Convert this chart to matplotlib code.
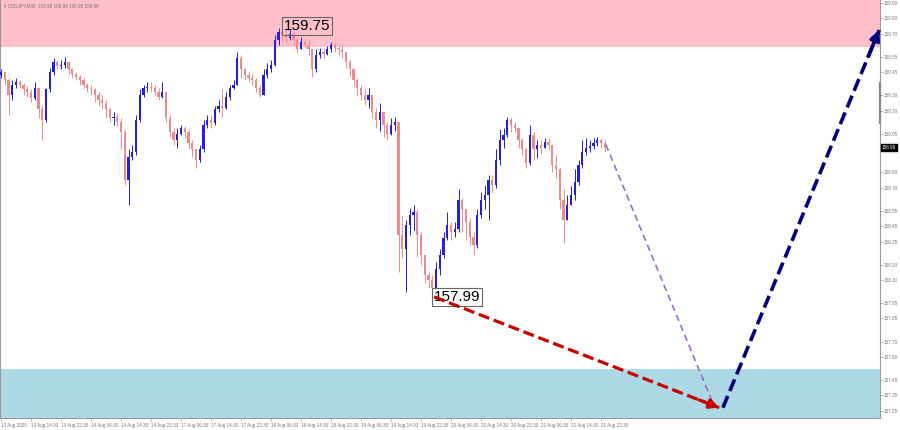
import numpy as np
from matplotlib import pyplot as plt

# USDJPY, velas de 1 hora (precio)
apertura0 = 159.43
cierres = [
    159.45, 159.40, 159.30, 159.37, 159.39, 159.37, 159.34, 159.32, 159.28, 159.35,
    159.21, 159.14, 159.34, 159.45, 159.52, 159.49, 159.50, 159.52, 159.47, 159.44,
    159.42, 159.40, 159.37, 159.35, 159.34, 159.30, 159.27, 159.25, 159.21, 159.15,
    159.16, 159.13, 159.06, 158.75, 158.90, 158.93, 159.14, 159.30, 159.35, 159.355,
    159.35, 159.32, 159.29, 159.32, 159.15, 159.06, 159.01, 159.05, 159.09, 159.06,
    158.99, 158.95, 158.88, 158.95, 159.11, 159.14, 159.12, 159.21, 159.23, 159.22,
    159.29, 159.35, 159.37, 159.54, 159.47, 159.43, 159.41, 159.40, 159.35, 159.30,
    159.43, 159.47, 159.50, 159.66, 159.71, 159.69, 159.67, 159.70, 159.66, 159.60,
    159.65, 159.63, 159.60, 159.47, 159.56, 159.58, 159.57, 159.60, 159.63, 159.61,
    159.60, 159.58, 159.52, 159.47, 159.40, 159.35, 159.30, 159.27, 159.30, 159.19,
    159.14, 159.19, 159.11, 159.05, 159.11, 159.13, 158.39, 158.30, 158.46, 158.52,
    158.54, 158.39, 158.26, 158.13, 158.10, 158.05, 158.17, 158.26, 158.37, 158.46,
    158.41, 158.43, 158.62, 158.56, 158.48, 158.38, 158.33, 158.52, 158.62, 158.65,
    158.75, 158.72, 158.88, 159.01, 159.04, 159.14, 159.11, 159.09, 159.01, 158.95,
    158.86, 159.04, 158.95, 158.98, 158.96, 159.00, 158.98, 158.85, 158.82, 158.62,
    158.49, 158.59, 158.65, 158.74, 158.85, 158.93, 158.96, 158.97, 158.99, 159.01,
    158.99, 158.96]
maximos = [
    159.47, 159.45, 159.41, 159.40, 159.41, 159.40, 159.38, 159.36, 159.34, 159.39,
    159.35, 159.24, 159.35, 159.48, 159.54, 159.53, 159.53, 159.55, 159.52, 159.48,
    159.45, 159.43, 159.41, 159.38, 159.37, 159.35, 159.32, 159.30, 159.27, 159.22,
    159.19, 159.18, 159.15, 159.08, 158.95, 158.98, 159.17, 159.34, 159.37, 159.39,
    159.39, 159.37, 159.35, 159.39, 159.32, 159.17, 159.09, 159.09, 159.11, 159.10,
    159.08, 159.01, 158.96, 158.98, 159.14, 159.17, 159.17, 159.23, 159.27, 159.34,
    159.32, 159.37, 159.40, 159.58, 159.56, 159.48, 159.45, 159.44, 159.41, 159.37,
    159.47, 159.51, 159.53, 159.69, 159.74, 159.75, 159.73, 159.73, 159.71, 159.67,
    159.68, 159.67, 159.66, 159.60, 159.60, 159.61, 159.60, 159.62, 159.65, 159.64,
    159.62, 159.63, 159.58, 159.53, 159.48, 159.41, 159.37, 159.34, 159.35, 159.28,
    159.22, 159.25, 159.19, 159.13, 159.15, 159.16, 159.13, 158.52, 158.49, 158.57,
    158.59, 158.56, 158.41, 158.26, 158.15, 158.13, 158.22, 158.30, 158.41, 158.54,
    158.48, 158.48, 158.69, 158.63, 158.56, 158.50, 158.41, 158.56, 158.67, 158.72,
    158.78, 158.78, 158.95, 159.08, 159.09, 159.16, 159.15, 159.13, 159.08, 159.02,
    158.96, 159.11, 159.06, 159.01, 159.01, 159.02, 159.02, 158.98, 158.91, 158.83,
    158.69, 158.65, 158.71, 158.82, 158.88, 159.01, 159.02, 159.01, 159.02, 159.03,
    159.02, 159.01]
minimos = [
    159.41, 159.37, 159.17, 159.27, 159.35, 159.35, 159.30, 159.29, 159.26, 159.27,
    159.15, 159.01, 159.13, 159.32, 159.43, 159.47, 159.47, 159.48, 159.44, 159.41,
    159.40, 159.37, 159.35, 159.32, 159.30, 159.26, 159.23, 159.21, 159.15, 159.13,
    159.11, 159.10, 158.95, 158.72, 158.59, 158.88, 158.91, 159.13, 159.29, 159.32,
    159.32, 159.30, 159.27, 159.28, 159.13, 159.03, 158.98, 158.96, 159.04, 159.02,
    158.95, 158.90, 158.83, 158.87, 158.93, 159.09, 159.09, 159.11, 159.19, 159.16,
    159.21, 159.27, 159.34, 159.37, 159.41, 159.40, 159.39, 159.37, 159.32, 159.29,
    159.30, 159.41, 159.45, 159.49, 159.63, 159.65, 159.64, 159.66, 159.63, 159.58,
    159.60, 159.61, 159.56, 159.42, 159.45, 159.54, 159.54, 159.56, 159.58, 159.58,
    159.56, 159.54, 159.48, 159.42, 159.36, 159.30, 159.27, 159.24, 159.22, 159.15,
    159.09, 159.07, 159.03, 159.01, 159.04, 159.07, 158.15, 158.24, 158.02, 158.39,
    158.42, 158.25, 158.20, 158.08, 158.05, 157.99, 158.02, 158.13, 158.24, 158.36,
    158.36, 158.38, 158.41, 158.41, 158.36, 158.33, 158.26, 158.31, 158.50, 158.56,
    158.49, 158.67, 158.70, 158.85, 158.96, 159.03, 159.06, 159.06, 158.96, 158.91,
    158.83, 158.85, 158.88, 158.89, 158.92, 158.96, 158.95, 158.80, 158.76, 158.56,
    158.34, 158.49, 158.59, 158.62, 158.72, 158.83, 158.91, 158.93, 158.95, 158.97,
    158.96, 158.93]

etiquetas_fecha = ["13 Aug 2020", "13 Aug 14:30", "13 Aug 22:30", "14 Aug 06:30",
                   "14 Aug 14:30", "14 Aug 22:30", "17 Aug 06:30", "17 Aug 14:30",
                   "17 Aug 22:30", "18 Aug 06:30", "18 Aug 14:30", "18 Aug 22:30",
                   "19 Aug 06:30", "19 Aug 14:30", "19 Aug 22:30", "20 Aug 06:30",
                   "20 Aug 14:30", "20 Aug 22:30", "21 Aug 06:30", "21 Aug 14:30",
                   "21 Aug 22:30"]
precios_eje = [159.90, 159.80, 159.70, 159.55, 159.45, 159.30, 159.20, 159.05,
               158.80, 158.70, 158.55, 158.45, 158.35, 158.20, 158.10, 157.95,
               157.85, 157.70, 157.60, 157.45, 157.35, 157.25]

# zonas y pronostico
zona_resistencia = (159.615, 160.0)
zona_soporte = (157.10, 157.52)
max_marcado = (75, 159.75)
min_marcado = (115, 157.99)
flecha_roja = [(115.5, 157.99), (191.5, 157.27)]
linea_violeta = [(161.3, 158.98), (190.0, 157.29)]
flecha_azul = [(192.5, 157.27), (234.2, 159.725)]
precio_actual = 158.96
barra_eje = (159.12, 159.38)

fuentes = ['Liberation Sans', 'DejaVu Sans']

cierres = np.array(cierres)
maximos = np.array(maximos)
minimos = np.array(minimos)
assert len(cierres) == len(maximos) == len(minimos)
aperturas = np.concatenate([[apertura0], cierres[:-1]])
idx = np.arange(len(cierres))

fig = plt.figure(figsize=(9, 4.3), dpi=100)
ax = fig.add_axes([0.0, 12 / 430, 880 / 900, 418 / 430])
ax.set_xlim(-0.27, 234.4)
ax.set_ylim(157.203, 159.92)

ax.axhspan(*zona_resistencia, color='#ffc0cb', zorder=0, lw=0)
ax.axhspan(*zona_soporte, color='#add8e6', zorder=0, lw=0)

sube = cierres >= aperturas
col = np.where(sube, '#1f1fe6', '#f08a8a')
alto = np.maximum(maximos, np.maximum(aperturas, cierres))
bajo = np.minimum(minimos, np.minimum(aperturas, cierres))
ax.vlines(idx, bajo, alto, colors=col, lw=0.7, zorder=2)
cuerpo = np.maximum(np.abs(cierres - aperturas), 0.004)
ax.bar(idx, cuerpo, bottom=np.minimum(aperturas, cierres), width=0.6,
       color=col, lw=0, zorder=3)

# etiquetas de maximo y minimo
caja = dict(boxstyle='square,pad=0.12', fc='none', ec='#666666', lw=0.8)
ax.text(max_marcado[0] + 0.3, max_marcado[1], f"{max_marcado[1]:.2f}",
        family=fuentes, fontsize=11, va='center', ha='left',
        bbox=caja, zorder=4)
ax.text(min_marcado[0] + 0.5, min_marcado[1], f"{min_marcado[1]:.2f}",
        family=fuentes, fontsize=11, va='center', ha='left',
        bbox=dict(caja, fc='white'), zorder=4)


def flecha(puntos, color, lw, dashes, cabeza=True):
    (x0, y0), (x1, y1) = puntos
    ax.plot([x0, x1], [y0, y1], color=color, lw=lw, dashes=dashes,
            zorder=5, clip_on=False, solid_capstyle='butt')
    if cabeza:
        xs = x0 + (x1 - x0) * 0.93
        ys = y0 + (y1 - y0) * 0.93
        ax.annotate('', xy=(x1, y1), xytext=(xs, ys), zorder=7,
                    annotation_clip=False,
                    arrowprops=dict(arrowstyle='-|>', color=color, lw=lw,
                                    mutation_scale=14, shrinkA=0, shrinkB=0))


flecha(linea_violeta, '#9a6ad8', 1.2, (4, 2.5), cabeza=False)
flecha(flecha_roja, '#c80000', 2.3, (3.5, 1.5))
flecha(flecha_azul, '#00007a', 2.6, (3.5, 1.5))

# ejes estilo terminal
ax.spines['top'].set_visible(False)
for lado in ['left', 'right', 'bottom']:
    ax.spines[lado].set_color('#9a9a9a')
    ax.spines[lado].set_linewidth(0.8)
ax.plot([1, 1], barra_eje, transform=ax.get_yaxis_transform(), color='#888888',
        lw=1.6, clip_on=False, zorder=9)

ax.yaxis.tick_right()
ax.set_yticks(precios_eje)
ax.set_yticklabels([f"{p:.2f}" for p in precios_eje], family=fuentes,
                   fontsize=3.3, color='#777777')
ax.tick_params(axis='y', length=2, width=0.5, color='#999999', pad=1)

ax.set_xticks(idx[::8][:len(etiquetas_fecha)])
ax.set_xticklabels(etiquetas_fecha, family=fuentes, fontsize=3.3,
                   color='#777777', ha='left')
ax.tick_params(axis='x', length=2, width=0.5, color='#999999', pad=1.5)

ax.text(1.002, precio_actual, f"{precio_actual:.2f}", transform=ax.get_yaxis_transform(),
        family=fuentes, fontsize=3.3, color='white', va='center', ha='left',
        bbox=dict(boxstyle='square,pad=0.25', fc='black', ec='black'), zorder=8,
        clip_on=False)

ax.text(0.004, 0.992, "\u25be USDJPY,M30  158.98 158.99 158.95 158.96",
        transform=ax.transAxes, family=fuentes, fontsize=3.3,
        color='#777777', va='top', ha='left')

plt.savefig('out.png', dpi=100)
